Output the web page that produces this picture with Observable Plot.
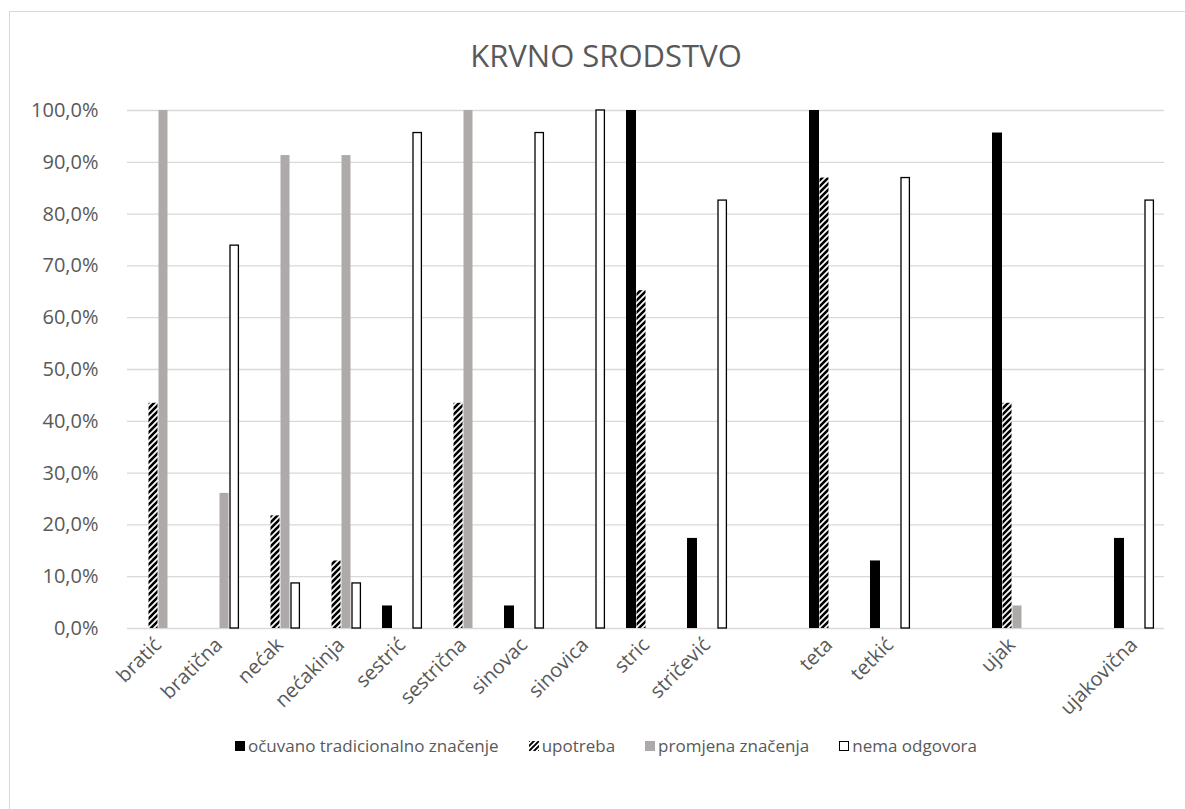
<!DOCTYPE html>
<html>
<head>
<meta charset="utf-8">
<script src="https://cdn.jsdelivr.net/npm/d3@7"></script>
<script src="https://cdn.jsdelivr.net/npm/@observablehq/plot@0.6"></script>
<style>
  html, body { margin: 0; padding: 0; background: #fff; overflow: hidden; width: 1185px; height: 809px; }
  body { position: relative; font-family: "Open Sans", sans-serif; color: #595959; }
  #frame { position: absolute; left: 9px; top: 11px; width: 1194px; height: 820px; border: 1px solid #d9d9d9; box-sizing: border-box; }
  #title { position: absolute; left: 9px; top: 35px; width: 1194px; text-align: center; font-size: 31px; line-height: 40px; color: #595959; }
  #chart { position: absolute; left: 0; top: 90px; }
  #legend { position: absolute; left: 9px; top: 734px; width: 1194px; display: flex; justify-content: center; gap: 30px; font-size: 17px; line-height: 24px; color: #595959; }
  .item { display: flex; align-items: center; gap: 3px; white-space: nowrap; }
  .sw { width: 10px; height: 10px; box-sizing: border-box; }
</style>
</head>
<body>
<div id="frame"></div>
<div id="title">KRVNO SRODSTVO</div>
<div id="chart"></div>
<div id="legend"></div>
<script>
// ---- data ----
const categories = ["bratić","bratična","nećak","nećakinja","sestrić","sestrična","sinovac","sinovica","stric","stričević","","teta","tetkić","","ujak","","ujakovična"];
const series = ["očuvano tradicionalno značenje","upotreba","promjena značenja","nema odgovora"];
const ocuvano      = [0, 0, 0, 0, 4.35, 0, 4.35, 0, 100, 17.39, 0, 100, 13.04, 0, 95.65, 0, 17.39];
const upotreba     = [43.48, 0, 21.74, 13.04, 0, 43.48, 0, 0, 65.22, 0, 0, 86.96, 0, 0, 43.48, 0, 0];
const promjena     = [100, 26.09, 91.30, 91.30, 0, 100, 0, 0, 0, 0, 0, 0, 0, 0, 4.35, 0, 0];
const nemaOdgovora = [0, 73.91, 8.70, 8.70, 95.65, 0, 95.65, 100, 0, 82.61, 0, 0, 86.96, 0, 0, 0, 82.61];
const yTicks = [0, 10, 20, 30, 40, 50, 60, 70, 80, 90, 100];

const seriesValues = [ocuvano, upotreba, promjena, nemaOdgovora];
const rows = [];
categories.forEach((c, i) => series.forEach((s, j) => {
  rows.push({i, s, v: seriesValues[j][i]});
}));
const bySeries = s => rows.filter(d => d.s === s);
const nonZero = s => rows.filter(d => d.s === s && d.v > 0);

const fmt = d => d.toFixed(1).replace(".", ",") + "%";

const plot = Plot.plot({
  width: 1185,
  height: 650,
  marginLeft: 122,
  marginRight: 16,
  marginTop: 20,
  marginBottom: 112,
  style: {fontFamily: "Open Sans", fontSize: "20px", color: "#595959", background: "transparent", overflow: "visible"},
  fx: {domain: d3.range(categories.length), padding: 0, tickFormat: i => categories[i], tickRotate: -45, tickSize: 0, tickPadding: 13, label: null},
  x: {domain: series, paddingInner: 0, paddingOuter: 1, axis: null},
  y: {domain: [0, 100], ticks: yTicks, tickFormat: fmt, tickSize: 0, tickPadding: 29, label: null},
  marks: [
    Plot.ruleY(yTicks, {stroke: "#d9d9d9", strokeWidth: 1.3}),
    // every category gets a (possibly zero-height) black bar so no facet is empty
    Plot.barY(bySeries(series[0]), {fx: "i", x: "s", y: "v", fill: "#000000"}),
    Plot.barY(nonZero(series[1]), {fx: "i", x: "s", y: "v", fill: "url(#hatch)", insetLeft: 0.5, insetRight: 0.5}),
    Plot.barY(nonZero(series[2]), {fx: "i", x: "s", y: "v", fill: "#aeaaaa", insetLeft: 0.5, insetRight: 0.5}),
    Plot.barY(nonZero(series[3]), {fx: "i", x: "s", y: "v", fill: "#ffffff", stroke: "#000000", strokeWidth: 1.3, insetLeft: 1, insetRight: 0.6})
  ]
});

// hatch pattern (wide upward diagonal)
const svg = d3.select(plot.tagName === "svg" ? plot : plot.querySelector("svg"));
const defs = svg.insert("defs", ":first-child");
const pat = defs.append("pattern").attr("id", "hatch").attr("patternUnits", "userSpaceOnUse")
  .attr("width", 6).attr("height", 6);
pat.append("rect").attr("width", 6).attr("height", 6).attr("fill", "#fff");
pat.append("path").attr("d", "M-1,7 L7,-1 M-2,2 L2,-2 M4,8 L8,4").attr("stroke", "#000").attr("stroke-width", 2.6);

document.getElementById("chart").appendChild(plot);

// legend
const swatchStyles = [
  "background:#000;",
  "",
  "background:#aeaaaa;",
  "background:#fff;border:1.5px solid #000;"
];
const legend = d3.select("#legend");
series.forEach((s, j) => {
  const it = legend.append("div").attr("class", "item");
  if (j === 1) {
    const sv = it.append("svg").attr("width", 10).attr("height", 10);
    const d2 = sv.append("defs").append("pattern").attr("id", "hatchL").attr("patternUnits", "userSpaceOnUse").attr("width", 5).attr("height", 5);
    d2.append("rect").attr("width", 5).attr("height", 5).attr("fill", "#fff");
    d2.append("path").attr("d", "M-1,6 L6,-1 M-1,1 L1,-1 M4,6 L6,4").attr("stroke", "#000").attr("stroke-width", 1.9);
    sv.append("rect").attr("width", 10).attr("height", 10).attr("fill", "url(#hatchL)");
  } else {
    it.append("div").attr("class", "sw").attr("style", swatchStyles[j]);
  }
  it.append("span").text(s);
});
</script>
</body>
</html>
